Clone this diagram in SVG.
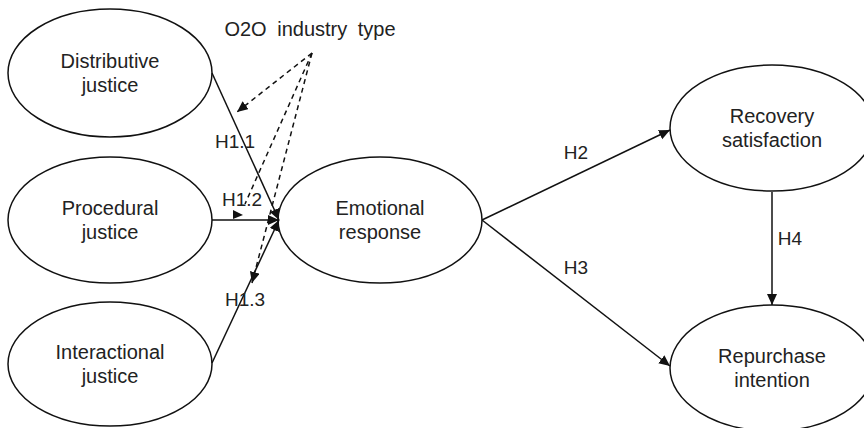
<svg xmlns="http://www.w3.org/2000/svg" width="864" height="428" viewBox="0 0 864 428">
<style>
.node ellipse{fill:#fff;stroke:#111;stroke-width:1.5}
text{font-family:"Liberation Sans",Arial,sans-serif;font-size:20px;fill:#222;text-anchor:middle}
.lbl{font-size:19px}
.conn line{stroke:#111;stroke-width:1.5;fill:none}
.conn .dash{stroke-dasharray:5 4}
</style>
<defs>
<marker id="arr" markerUnits="userSpaceOnUse" markerWidth="12" markerHeight="11" refX="11" refY="5" orient="auto">
<path d="M0,0 L11,5 L0,10 z" fill="#111"/>
</marker>
</defs>
<rect width="864" height="428" fill="#fff"/>
<g id="dist" class="node"><ellipse cx="110" cy="73" rx="102" ry="64"/><text x="110" y="68">Distributive</text><text x="110" y="92">justice</text></g>
<g id="proc" class="node"><ellipse cx="110" cy="220" rx="102" ry="63"/><text x="110" y="215">Procedural</text><text x="110" y="239">justice</text></g>
<g id="inter" class="node"><ellipse cx="110" cy="364" rx="102" ry="62"/><text x="110" y="359">Interactional</text><text x="110" y="383">justice</text></g>
<g id="emo" class="node"><ellipse cx="380" cy="220" rx="102" ry="63"/><text x="380" y="215">Emotional</text><text x="380" y="239">response</text></g>
<g id="rec" class="node"><ellipse cx="772" cy="128" rx="102" ry="63"/><text x="772" y="123">Recovery</text><text x="772" y="147">satisfaction</text></g>
<g id="rep" class="node"><ellipse cx="772" cy="368" rx="102" ry="63"/><text x="772" y="363">Repurchase</text><text x="772" y="387">intention</text></g>
<g id="mod"><text x="310" y="36" word-spacing="5">O2O industry type</text></g>
<g id="connectors" class="conn">
<line x1="212" y1="73" x2="279" y2="220" marker-end="url(#arr)"/>
<line x1="212" y1="220" x2="279" y2="220" marker-end="url(#arr)"/>
<line x1="212" y1="363" x2="279" y2="220" marker-end="url(#arr)"/>
<line x1="482" y1="220" x2="670" y2="130" marker-end="url(#arr)"/>
<line x1="482" y1="220" x2="670" y2="366" marker-end="url(#arr)"/>
<line x1="772" y1="192" x2="772" y2="305" marker-end="url(#arr)"/>
<line class="dash" x1="312" y1="53" x2="237" y2="112" marker-end="url(#arr)"/>
<line class="dash" x1="312" y1="53" x2="245" y2="204"/>
<polygon points="233,210 243,215 233,219" fill="#111"/>
<line class="dash" x1="312" y1="53" x2="252" y2="283" marker-end="url(#arr)"/>
</g>
<g id="labels">
<text class="lbl" x="235" y="148">H1.1</text>
<text class="lbl" x="242" y="206">H1.2</text>
<text class="lbl" x="245" y="306">H1.3</text>
<text class="lbl" x="576" y="159">H2</text>
<text class="lbl" x="576" y="274">H3</text>
<text class="lbl" x="790" y="245">H4</text>
</g>
</svg>
